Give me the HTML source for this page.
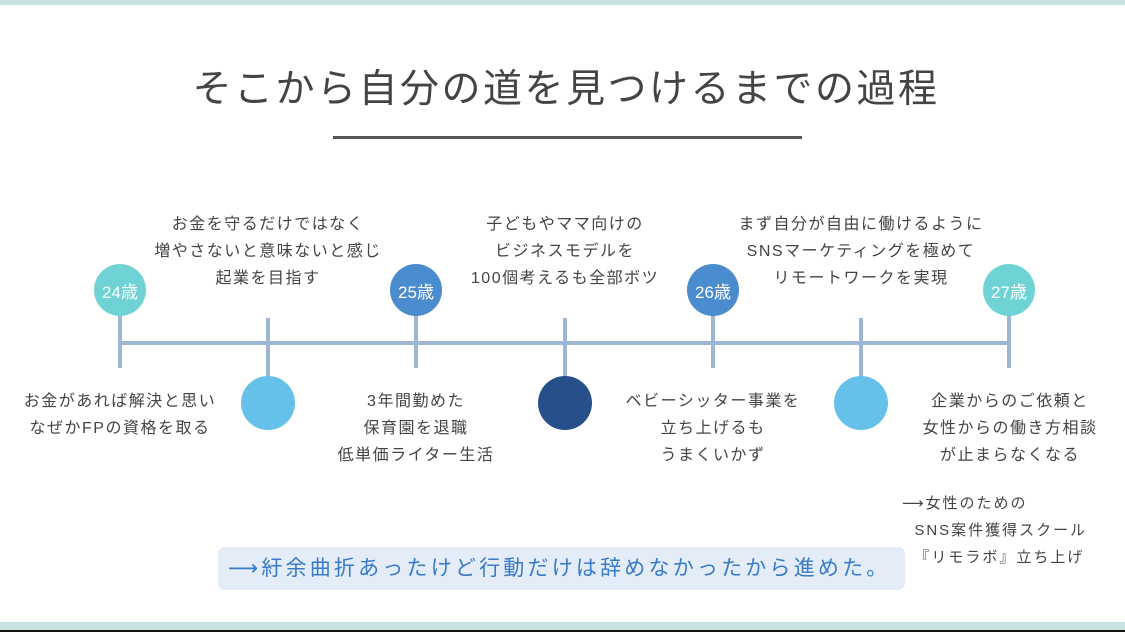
<!DOCTYPE html>
<html><head><meta charset="utf-8"><style>
body{margin:0;width:1125px;height:632px;background:#fff;position:relative;overflow:hidden;font-family:"Liberation Sans","Noto Sans CJK JP",sans-serif;color:#444}
.a{position:absolute}
.t{position:absolute;text-align:center;font-size:16px;line-height:27px;letter-spacing:1.5px;white-space:nowrap;transform:translateX(-50%)}
.c{position:absolute;border-radius:50%;color:#fff;font-size:17px;display:flex;align-items:center;justify-content:center}
.v{position:absolute;width:4px;background:#9db6d4}
.ar{font-family:"DejaVu Sans",sans-serif}
</style></head><body>
<div class="a" style="left:0;top:0;width:1125px;height:5px;background:#c7e0e0"></div>
<div class="a" style="left:0;top:622px;width:1125px;height:8px;background:#c7e0e0"></div>
<div class="a" style="left:0;top:630px;width:1125px;height:2px;background:#111"></div>
<div class="t" style="left:566px;top:64px;font-size:39px;line-height:52px;letter-spacing:2.5px;color:#444">そこから自分の道を見つけるまでの過程</div>
<div class="a" style="left:333px;top:136px;width:469px;height:3px;background:#555"></div>
<div class="a" style="left:120px;top:341px;width:890px;height:4px;background:#9db6d4"></div>
<div class="v" style="left:118px;top:300px;height:68px"></div>
<div class="v" style="left:266px;top:318px;height:70px"></div>
<div class="v" style="left:414px;top:300px;height:68px"></div>
<div class="v" style="left:563px;top:318px;height:70px"></div>
<div class="v" style="left:711px;top:300px;height:68px"></div>
<div class="v" style="left:859px;top:318px;height:70px"></div>
<div class="v" style="left:1007px;top:300px;height:68px"></div>
<div class="c" style="left:94px;top:264px;width:52px;height:52px;background:#6fd3d5">24歳</div>
<div class="c" style="left:390px;top:264px;width:52px;height:52px;background:#4a8ccd">25歳</div>
<div class="c" style="left:687px;top:264px;width:52px;height:52px;background:#4a8ccd">26歳</div>
<div class="c" style="left:983px;top:264px;width:52px;height:52px;background:#6fd3d5">27歳</div>
<div class="c" style="left:241px;top:376px;width:54px;height:54px;background:#65c1ea"></div>
<div class="c" style="left:538px;top:376px;width:54px;height:54px;background:#27508a"></div>
<div class="c" style="left:834px;top:376px;width:54px;height:54px;background:#65c1ea"></div>
<div class="t" style="left:268px;top:211px">お金を守るだけではなく<br>増やさないと意味ないと感じ<br>起業を目指す</div>
<div class="t" style="left:565px;top:211px">子どもやママ向けの<br>ビジネスモデルを<br>100個考えるも全部ボツ</div>
<div class="t" style="left:861px;top:211px">まず自分が自由に働けるように<br>SNSマーケティングを極めて<br>リモートワークを実現</div>
<div class="t" style="left:120px;top:388px">お金があれば解決と思い<br>なぜかFPの資格を取る</div>
<div class="t" style="left:416px;top:388px">3年間勤めた<br>保育園を退職<br>低単価ライター生活</div>
<div class="t" style="left:713px;top:388px">ベビーシッター事業を<br>立ち上げるも<br>うまくいかず</div>
<div class="t" style="left:1010px;top:388px">企業からのご依頼と<br>女性からの働き方相談<br>が止まらなくなる</div>
<div class="a" style="left:902px;top:490px;font-size:15px;line-height:27px;white-space:nowrap;letter-spacing:2px"><span class="ar">⟶</span>女性のための<br>&nbsp;&nbsp;SNS案件獲得スクール<br>&nbsp;&nbsp;『リモラボ』立ち上げ</div>
<div class="a" style="left:218px;top:547px;width:687px;height:43px;background:#e3ecf7;border-radius:7px;color:#3a7bc8;font-size:21px;line-height:43px;padding-left:10px;box-sizing:border-box;white-space:nowrap;letter-spacing:3.2px"><span class="ar">⟶</span>紆余曲折あったけど行動だけは辞めなかったから進めた。</div>
</body></html>
